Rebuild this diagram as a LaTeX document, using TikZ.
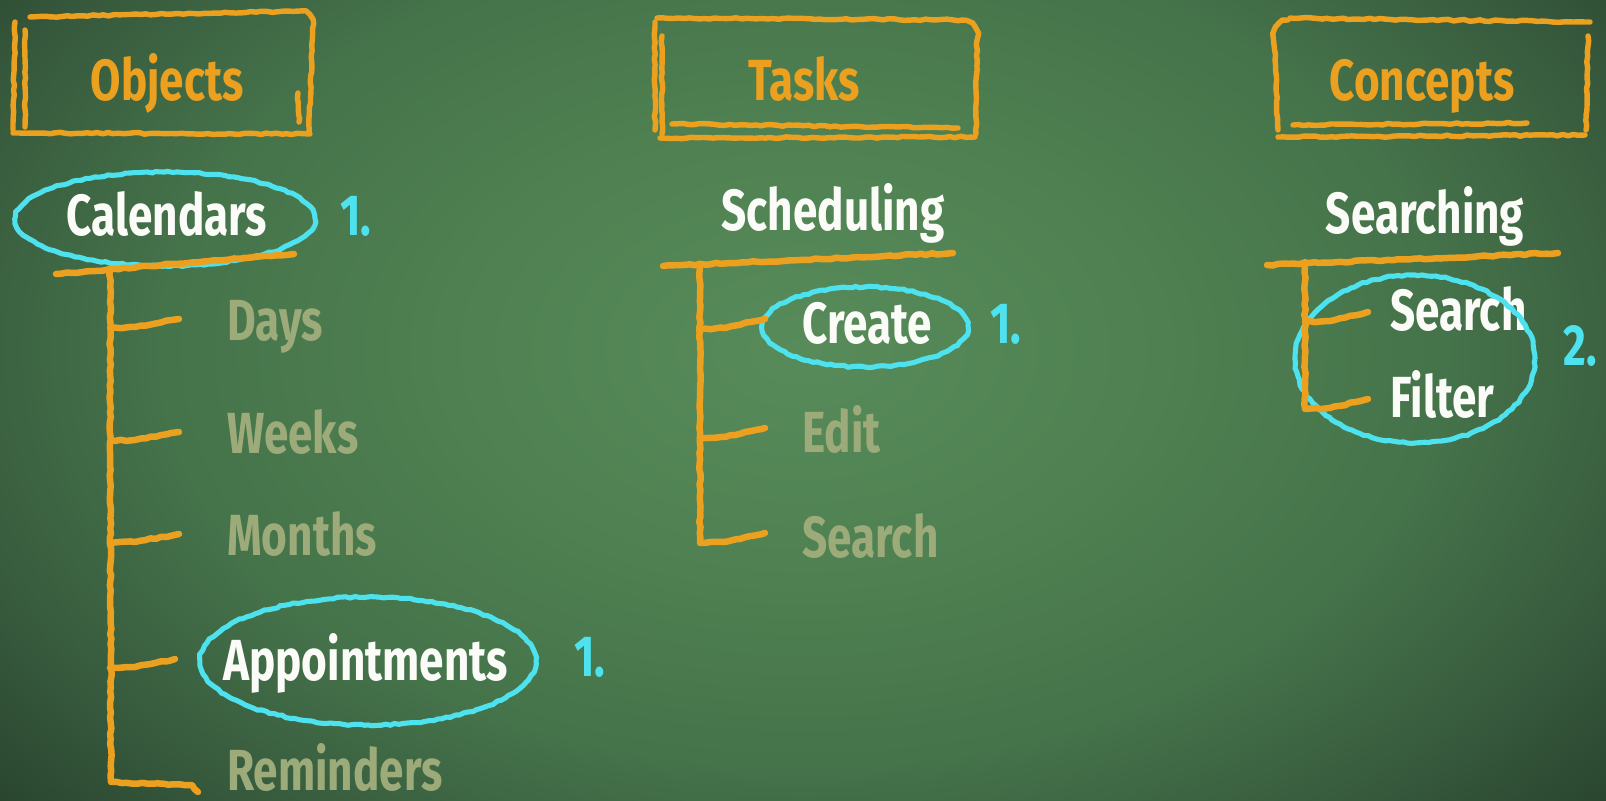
\documentclass[tikz,border=0pt]{standalone}
\usepackage{fontspec}
\setmainfont{Fira Sans}[FakeStretch=0.76]
\usetikzlibrary{calc,decorations.pathmorphing}

\definecolor{bgA}{HTML}{588B5A}
\definecolor{bgB}{HTML}{4E8051}
\definecolor{bgC}{HTML}{45734A}
\definecolor{bgD}{HTML}{375A3D}
\definecolor{bgE}{HTML}{253E2A}
\definecolor{chalkorange}{HTML}{EBA01F}
\definecolor{chalkcyan}{HTML}{4EE2EE}
\definecolor{chalkwhite}{HTML}{FBFBF8}
\definecolor{chalkfade}{HTML}{9DAB7A}

\pgfdeclareradialshading{board}{\pgfpoint{0bp}{0bp}}{%
  color(0bp)=(bgA); color(9bp)=(bgB); color(16bp)=(bgC);
  color(22bp)=(bgD); color(28bp)=(bgE); color(50bp)=(bgE)}

\newcommand\chalkfont{\fontsize{33}{36}\selectfont\bfseries}

\tikzset{
  lab/.style={font=\chalkfont, text=chalkwhite, inner sep=0pt, anchor=base},
  labw/.style={lab, anchor=base west},
  head/.style={lab, text=chalkorange},
  faded/.style={labw, text=chalkfade},
  num/.style={labw, text=chalkcyan},
  chalkline/.style={draw=chalkorange, line cap=round, line join=round,
    decorate, decoration={random steps, segment length=3pt, amplitude=0.45pt}},
  boxline/.style={chalkline, line width=3.1pt},
  treeline/.style={chalkline, line width=3.7pt},
  ring/.style={draw=chalkcyan, line width=2.9pt,
    decorate, decoration={random steps, segment length=2.5pt, amplitude=0.45pt}},
}

\begin{document}
\begin{tikzpicture}[x=0.02cm, y=-0.02cm]
\useasboundingbox (0,0) rectangle (1606,801);

% chalkboard
\begin{scope}
  \clip (0,0) rectangle (1606,801);
  \shade[shading=board] (-200,-300) rectangle (1806,1000);
\end{scope}

% ---------- column headings ----------
\node[head] (objects)  at (167,100)  {Objects};
\node[head] (tasks)    at (804,100)  {Tasks};
\node[head] (concepts) at (1422,100) {Concepts};

% Objects frame
\draw[boxline] (30,17) -- (300,11) to[out=0,in=90] (313,24) -- (309,133);
\draw[boxline] (13,133) -- (310,134);
\draw[boxline] (15,22) -- (13,130);
\draw[boxline] (25,30) -- (25,127);
\draw[boxline] (298,93) -- (299,122);

% Tasks frame
\draw[boxline] (657,18) -- (962,20) to[out=0,in=90] (977,34) -- (976,134);
\draw[boxline] (660,138) -- (975,137);
\draw[boxline] (655,22) -- (655,130);
\draw[boxline] (662,36) -- (662,134);
\draw[boxline] (672,124) -- (958,128);

% Concepts frame
\draw[boxline] (1290,18) -- (1590,22);
\draw[boxline] (1588,36) -- (1586,130);
\draw[boxline] (1278,137) -- (1585,135);
\draw[boxline] (1288,20) to[out=180,in=90] (1274,34) -- (1278,130);
\draw[boxline] (1293,125) -- (1527,123);

% ---------- Objects column ----------
\node[lab] (calendars) at (167,235) {Calendars};
\node[num] (n1) at (340,235) {1.};
\coordinate (calring) at (165,219);
\draw[ring] (calring) ellipse [x radius=3cm, y radius=0.94cm];

\node[faded] (days)   at (227,340) {Days};
\node[faded] (weeks)  at (227,453) {Weeks};
\node[faded] (months) at (227,555) {Months};
\node[labw]  (appts)  at (223,680) {Appointments};
\node[faded] (rem)    at (227,790) {Reminders};
\node[num] (n2) at (574,676) {1.};
\coordinate (appring) at (368,661);
\draw[ring] (appring) ellipse [x radius=3.36cm, y radius=1.28cm];

\coordinate (objul) at (56,274);
\coordinate (objtop) at (110,270);
\draw[treeline] (objul) -- (294,254);
\draw[treeline] (objtop) -- (111,782) -- ($(rem.base west)+(-35,-5)$) -- ++(6,7);
\foreach \n in {days,weeks,months,appts}
  \draw[treeline] (objtop |- {$(\n.base west)+(0,-12)$})
    -- ++(25,-1) -- ($(\n.base west)+(-48,-21)$);

% ---------- Tasks column ----------
\node[lab] (sched) at (833,230) {Scheduling};
\node[labw]  (create) at (802,343) {Create};
\node[faded] (edit)   at (802,452) {Edit};
\node[faded] (tsearch) at (802,557) {Search};
\node[num] (n3) at (990,343) {1.};
\coordinate (crring) at (865,327);
\draw[ring] (crring) ellipse [x radius=2.06cm, y radius=0.8cm];

\coordinate (taskul) at (663,266);
\coordinate (tasktop) at (700,264);
\draw[treeline] (taskul) -- (953,253);
\draw[treeline] (tasktop) -- (700,542);
\foreach \n in {create,edit,tsearch}
  \draw[treeline] (tasktop |- {$(\n.base west)+(0,-14)$})
    -- ++(25,-1) -- ($(\n.base west)+(-37,-24)$);

% ---------- Concepts column ----------
\node[lab] (searching) at (1425,233) {Searching};
\node[labw] (csearch) at (1390,330) {Search};
\node[labw] (filter)  at (1390,417) {Filter};
\node[num] (n4) at (1563,365) {2.};
\coordinate (cring) at (1415,359);
\draw[ring] (cring) ellipse [x radius=2.4cm, y radius=1.68cm];

\coordinate (concul) at (1267,265);
\coordinate (conctop) at (1305,262);
\draw[treeline] (concul) -- (1558,253);
\draw[treeline] (conctop) -- (1305,408);
\foreach \n in {csearch,filter}
  \draw[treeline] (conctop |- {$(\n.base west)+(0,-8)$})
    -- ++(25,-1) -- ($(\n.base west)+(-22,-18)$);
\end{tikzpicture}
\end{document}
